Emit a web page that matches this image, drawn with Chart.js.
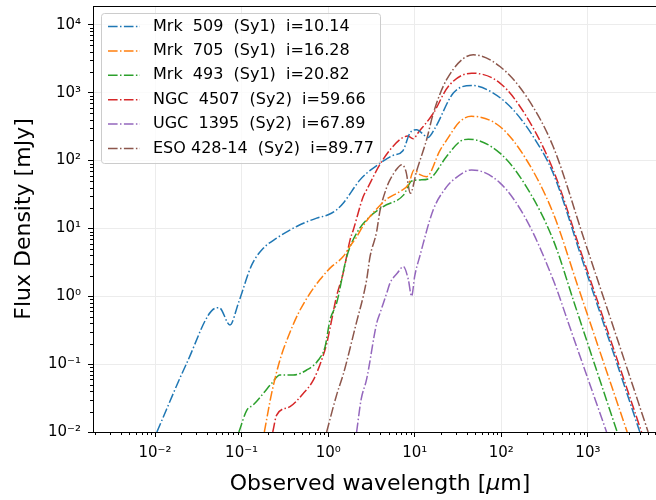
<!DOCTYPE html>
<html>
<head>
<meta charset="utf-8">
<script src="https://cdn.jsdelivr.net/npm/chart.js@4.4.1/dist/chart.umd.min.js"></script>
<style>
  html, body { margin: 0; padding: 0; background: #fff; overflow: hidden; }
  canvas { display: block; }
</style>
</head>
<body>
<canvas id="sed" width="668" height="500"></canvas>
<script>
// Axis limits (log scales)
const X_MIN = 1.92e-3;
const X_MAX = 8.2e3;
const Y_MIN = 1e-2;
const Y_MAX = 1.9e4;

const SERIES_LABELS = [
  'Mrk  509  (Sy1)  i=10.14',
  'Mrk  705  (Sy1)  i=16.28',
  'Mrk  493  (Sy1)  i=20.82',
  'NGC  4507  (Sy2)  i=59.66',
  'UGC  1395  (Sy2)  i=67.89',
  'ESO 428-14  (Sy2)  i=89.77'
];

const SERIES_COLORS = ['#1f77b4', '#ff7f0e', '#2ca02c', '#d62728', '#9467bd', '#8c564b'];

// x title pieces: the mu is set in italic, as in the original
const X_TITLE_PARTS = ['Observed wavelength [', 'μ', 'm]'];
const Y_TITLE = 'Flux Density [mJy]';

// wavelength [um] / flux density [mJy]
const MRK509_WL = [0.0105, 0.0232, 0.0493, 0.055, 0.0734, 0.0917, 0.131, 0.178, 0.254, 0.432, 0.736, 1.0, 1.25, 1.49, 2.33, 2.78, 4.0, 5.5, 7.3, 8.8, 10.5, 14.3, 17.1, 27.9, 45.4, 80.6, 137, 233, 397, 853, 1845, 3981];
const MRK509_FLUX = [0.0100, 0.103, 0.667, 0.68, 0.378, 0.79, 2.9, 5.1, 7.2, 10.7, 14.2, 15.9, 18.8, 23.6, 52, 65, 92, 118, 140, 255, 285, 220, 300, 990, 1283, 990, 561, 227, 65, 3.57, 0.189, 0.0100];

const MRK705_WL = [0.183, 0.222, 0.277, 0.346, 0.452, 0.617, 0.8, 1.05, 1.49, 1.79, 2.13, 2.54, 3.04, 4.73, 6.7, 8.5, 9.8, 11.5, 13.7, 19.5, 23.3, 33.3, 45, 96.4, 195, 397, 767, 1489, 2844];
const MRK705_FLUX = [0.0100, 0.037, 0.115, 0.255, 0.56, 1.11, 1.75, 2.6, 3.85, 5.5, 7.5, 11, 15, 27, 35, 45, 73, 62, 58, 140, 200, 378, 450, 318, 103, 16.8, 1.40, 0.114, 0.0100];

const MRK493_WL = [0.093, 0.115, 0.136, 0.178, 0.222, 0.277, 0.395, 0.565, 0.77, 0.92, 1.05, 1.25, 1.64, 2.13, 3.04, 4.33, 7.4, 9.2, 11.5, 15, 23.3, 33.3, 41.5, 96.4, 195, 397, 708, 1236, 2178];
const MRK493_FLUX = [0.0100, 0.021, 0.025, 0.037, 0.052, 0.069, 0.069, 0.082, 0.115, 0.18, 0.45, 0.79, 3.85, 8.5, 15, 21, 31, 50, 52, 55, 115, 191, 207, 129, 41, 6.8, 0.745, 0.0875, 0.0100];

const NGC4507_WL = [0.229, 0.254, 0.362, 0.515, 0.673, 0.84, 0.96, 1.05, 1.25, 1.49, 1.79, 1.95, 2.54, 2.78, 4.15, 6.7, 8.3, 9.6, 11, 16.4, 24.4, 45.4, 96.4, 195, 397, 853, 1892, 4169];
const NGC4507_FLUX = [0.0100, 0.0178, 0.0236, 0.037, 0.058, 0.115, 0.2, 0.34, 1.0, 2.2, 6.8, 9.5, 29.5, 37, 97, 203, 230, 210, 260, 500, 1240, 1946, 1390, 447, 73, 4.08, 0.2, 0.0100];

const UGC1395_WL = [2.13, 2.4, 2.78, 3.63, 3.96, 4.73, 5.17, 6.3, 7.4, 8.4, 9.2, 10, 11.5, 16.4, 23.3, 27.9, 45.4, 96.4, 195, 397, 637, 1028, 1644];
const UGC1395_FLUX = [0.0100, 0.03, 0.06, 0.4, 0.56, 1.1, 1.56, 2.2, 2.74, 1.8, 1.0, 2.0, 4.0, 19, 41, 52, 73, 47, 13.4, 1.75, 0.315, 0.0552, 0.0100];

const ESO428_WL = [0.96, 1.25, 1.49, 1.64, 2.13, 2.54, 2.78, 3.04, 3.63, 3.96, 4.73, 5.17, 6.2, 7.06, 7.9, 8.9, 10.5, 13.7, 16.4, 23.3, 47.4, 96.4, 195, 397, 923, 2163, 4966];
const ESO428_FLUX = [0.0100, 0.035, 0.07, 0.11, 0.42, 1.0, 1.75, 3.8, 9, 18, 40, 52, 75, 87, 70, 33, 70, 203, 500, 1556, 3630, 2440, 880, 161, 6.38, 0.245, 0.0100];

const SERIES_WL = [MRK509_WL, MRK705_WL, MRK493_WL, NGC4507_WL, UGC1395_WL, ESO428_WL];
const SERIES_FLUX = [MRK509_FLUX, MRK705_FLUX, MRK493_FLUX, NGC4507_FLUX, UGC1395_FLUX, ESO428_FLUX];

const FONT_FAMILY = "'DejaVu Sans', sans-serif";
const GRID_COLOR = '#ececec';
const DASH_DOT = [9.6, 2.4, 1.5, 2.4];

const SUPERSCRIPT = { '0': '⁰', '1': '¹', '2': '²', '3': '³', '4': '⁴', '5': '⁵', '6': '⁶', '7': '⁷', '8': '⁸', '9': '⁹', '-': '⁻' };

function powerLabel(value) {
  const exp = String(Math.round(Math.log10(value)));
  return '10' + exp.split('').map((c) => SUPERSCRIPT[c]).join('');
}

// major ticks at powers of ten, minor ticks at 2..9
function buildLogTicks(min, max) {
  const ticks = [];
  const lo = Math.floor(Math.log10(min));
  const hi = Math.ceil(Math.log10(max));
  for (let k = lo; k <= hi; k++) {
    for (let m = 1; m <= 9; m++) {
      const value = parseFloat((m * Math.pow(10, k)).toPrecision(6));
      if (value >= min * 0.9999 && value <= max * 1.0001) {
        ticks.push({ value, major: m === 1 });
      }
    }
  }
  return ticks;
}

function createDataset(label, index) {
  const wl = SERIES_WL[index];
  const flux = SERIES_FLUX[index];
  return {
    label,
    data: wl.map((x, i) => ({ x, y: flux[i] })),
    borderColor: SERIES_COLORS[index],
    backgroundColor: SERIES_COLORS[index],
    borderWidth: 1.5,
    borderDash: DASH_DOT,
    pointRadius: 0,
    cubicInterpolationMode: 'monotone',
    fill: false
  };
}

function createAxis(afterFit, title, tickPadding) {
  return {
    type: 'logarithmic',
    afterBuildTicks: (scale) => {
      scale.ticks = buildLogTicks(scale.min, scale.max);
    },
    afterFit,
    grid: {
      color: (ctx) => (ctx.tick && ctx.tick.major ? GRID_COLOR : 'rgba(0,0,0,0)'),
      tickColor: (ctx) => (ctx.tick && ctx.tick.major ? '#000' : 'rgba(0,0,0,0)'),
      tickLength: 5,
      lineWidth: 1
    },
    border: { display: true, color: '#000', width: 1 },
    ticks: {
      autoSkip: false,
      maxRotation: 0,
      padding: tickPadding,
      color: '#000',
      font: { family: FONT_FAMILY, size: 15 },
      callback: (value, index, ticks) => (ticks[index].major ? powerLabel(value) : '')
    },
    title
  };
}

// minor tick marks, top spine and the x title (with italic mu)
const axisDecor = {
  id: 'axisDecor',
  afterDraw(chart) {
    const { ctx, chartArea, scales } = chart;
    ctx.save();
    ctx.strokeStyle = '#000';
    ctx.lineWidth = 1;
    ctx.beginPath();
    scales.x.ticks.forEach((tick) => {
      if (tick.major) return;
      const px = Math.round(scales.x.getPixelForValue(tick.value)) + 0.5;
      ctx.moveTo(px, chartArea.bottom);
      ctx.lineTo(px, chartArea.bottom + 3);
    });
    scales.y.ticks.forEach((tick) => {
      if (tick.major) return;
      const py = Math.round(scales.y.getPixelForValue(tick.value)) + 0.5;
      ctx.moveTo(chartArea.left, py);
      ctx.lineTo(chartArea.left - 3, py);
    });
    ctx.stroke();
    ctx.beginPath();
    ctx.moveTo(chartArea.left, Math.round(chartArea.top) + 0.5);
    ctx.lineTo(chartArea.right, Math.round(chartArea.top) + 0.5);
    ctx.stroke();

    const fonts = [`22px ${FONT_FAMILY}`, `italic 22px ${FONT_FAMILY}`, `22px ${FONT_FAMILY}`];
    const widths = X_TITLE_PARTS.map((part, i) => {
      ctx.font = fonts[i];
      return ctx.measureText(part).width;
    });
    const total = widths.reduce((a, b) => a + b, 0);
    let x = (chartArea.left + chartArea.right) / 2 - total / 2;
    const y = scales.x.bottom - 16;
    ctx.fillStyle = '#000';
    ctx.textBaseline = 'middle';
    ctx.textAlign = 'left';
    X_TITLE_PARTS.forEach((part, i) => {
      ctx.font = fonts[i];
      ctx.fillText(part, x, y);
      x += widths[i];
    });
    ctx.restore();
  }
};

// legend box drawn inside the plot, upper left
const insetLegend = {
  id: 'insetLegend',
  afterDatasetsDraw(chart) {
    const { ctx, chartArea } = chart;
    const left = chartArea.left + 8;
    const top = chartArea.top + 7;
    const rowPitch = 24.4;
    const width = 279;
    const height = 150;
    ctx.save();
    ctx.beginPath();
    ctx.roundRect(left + 0.5, top + 0.5, width, height, 3);
    ctx.fillStyle = 'rgba(255,255,255,0.8)';
    ctx.fill();
    ctx.strokeStyle = '#cccccc';
    ctx.lineWidth = 1;
    ctx.stroke();

    ctx.font = `16px ${FONT_FAMILY}`;
    ctx.textBaseline = 'middle';
    ctx.textAlign = 'left';
    chart.data.datasets.forEach((ds, i) => {
      const y = top + 13.5 + i * rowPitch;
      ctx.beginPath();
      ctx.setLineDash(ds.borderDash);
      ctx.strokeStyle = ds.borderColor;
      ctx.lineWidth = ds.borderWidth;
      ctx.moveTo(left + 7, y);
      ctx.lineTo(left + 39, y);
      ctx.stroke();
      ctx.setLineDash([]);
      ctx.fillStyle = '#000';
      ctx.fillText(ds.label, left + 52, y);
    });
    ctx.restore();
  }
};

Chart.defaults.font.family = FONT_FAMILY;

new Chart(document.getElementById('sed').getContext('2d'), {
  type: 'line',
  data: {
    datasets: SERIES_LABELS.map(createDataset)
  },
  options: {
    responsive: false,
    animation: false,
    layout: { padding: { top: 6, right: 1, bottom: 0, left: 0 } },
    scales: {
      x: {
        ...createAxis((scale) => {
          scale.height = 68;
          scale.paddingLeft = 0;
          scale.paddingRight = 0;
        }, { display: false }, 7),
        position: 'bottom',
        min: X_MIN,
        max: X_MAX
      },
      y: {
        ...createAxis((scale) => {
          scale.width = 93;
          scale.paddingTop = 0;
          scale.paddingBottom = 0;
        }, {
          display: true,
          text: Y_TITLE,
          color: '#000',
          font: { family: FONT_FAMILY, size: 22 },
          padding: { top: 11, bottom: 0 }
        }, 7),
        position: 'left',
        min: Y_MIN,
        max: Y_MAX
      }
    },
    plugins: {
      legend: { display: false },
      tooltip: { enabled: false }
    }
  },
  plugins: [axisDecor, insetLegend]
});
</script>
</body>
</html>
